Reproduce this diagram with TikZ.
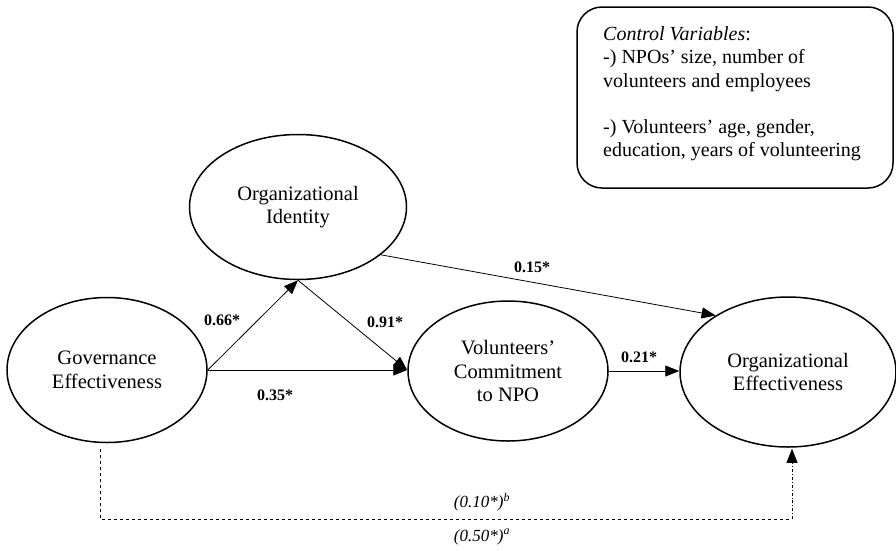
\documentclass[tikz,border=0pt]{standalone}
\usepackage{fontspec}
\setmainfont{Liberation Serif}
\usetikzlibrary{shapes.geometric,arrows.meta}
\tikzset{
  construct/.style={draw, ellipse, line width=1.5pt, inner sep=0pt, align=center,
    font=\fontsize{20.5}{23.5}\selectfont},
  tip/.style={-{Triangle[length=14pt,width=11pt]}},
  path/.style={line width=0.8pt, tip},
  coef/.style={font=\fontsize{16}{19}\selectfont\bfseries, inner sep=0pt},
  icoef/.style={font=\fontsize{17}{20}\selectfont\itshape, inner sep=0pt},
  ctrltext/.style={font=\fontsize{20}{23.5}\selectfont, anchor=base west, inner sep=0pt},
}
\begin{document}
\begin{tikzpicture}[x=1pt,y=-1pt]
\useasboundingbox (0,0) rectangle (896,550);

\node[construct, minimum width=200pt, minimum height=145pt] (GE) at (107,370) {Governance\\Effectiveness};
\node[construct, minimum width=217pt, minimum height=145pt] (OI) at (298,207) {Organizational\\Identity};
\node[construct, minimum width=200pt, minimum height=140pt] (VC) at (508,371) {Volunteers’\\Commitment\\to NPO};
\node[construct, minimum width=216pt, minimum height=150pt] (OE) at (788,372) {Organizational\\Effectiveness};

% control box
\draw[line width=1.5pt, rounded corners=25pt] (577,7) rectangle (893,188);
\node[ctrltext] (c1) at (603,40) {\textit{Control Variables}:};
\node[ctrltext] (c2) at (603,63.5) {-) NPOs’ size, number of};
\node[ctrltext] (c3) at (603,87) {volunteers and employees};
\node[ctrltext] (c4) at (603,133) {-) Volunteers’ age, gender,};
\node[ctrltext] (c5) at (603,156.5) {education, years of volunteering};

% paths
\draw[path] (GE.east) -- (OI.south);
\draw[path] (OI.south) -- (VC.west |- GE.east);
\draw[path] (GE.east) -- (VC.west |- GE.east);
\draw[path] (VC.east) -- (VC.east -| OE.west);
\draw[path] (OI.-30) -- (OE.142);

% dashed total effect
\coordinate (d1) at (100,519);
\coordinate (d2) at (792,519);
\draw[line width=0.8pt, dashed] ([xshift=-7pt,yshift=-6pt]GE.south) -- (d1) -- (d2);
\draw[line width=0.8pt, dash dot, tip] (d2) -- ([xshift=4pt,yshift=-1pt]OE.south);

% coefficients
\node[coef] (l66) at (222,320) {0.66*};
\node[coef] (l91) at (385,322) {0.91*};
\node[coef] (l35) at (275,395) {0.35*};
\node[coef] (l21) at (639,357) {0.21*};
\node[coef] (l15) at (532,267) {0.15*};
\node[icoef] (lb) at (482,502) {(0.10*)\textsuperscript{b}};
\node[icoef] (la) at (482,537) {(0.50*)\textsuperscript{a}};
\end{tikzpicture}
\end{document}
